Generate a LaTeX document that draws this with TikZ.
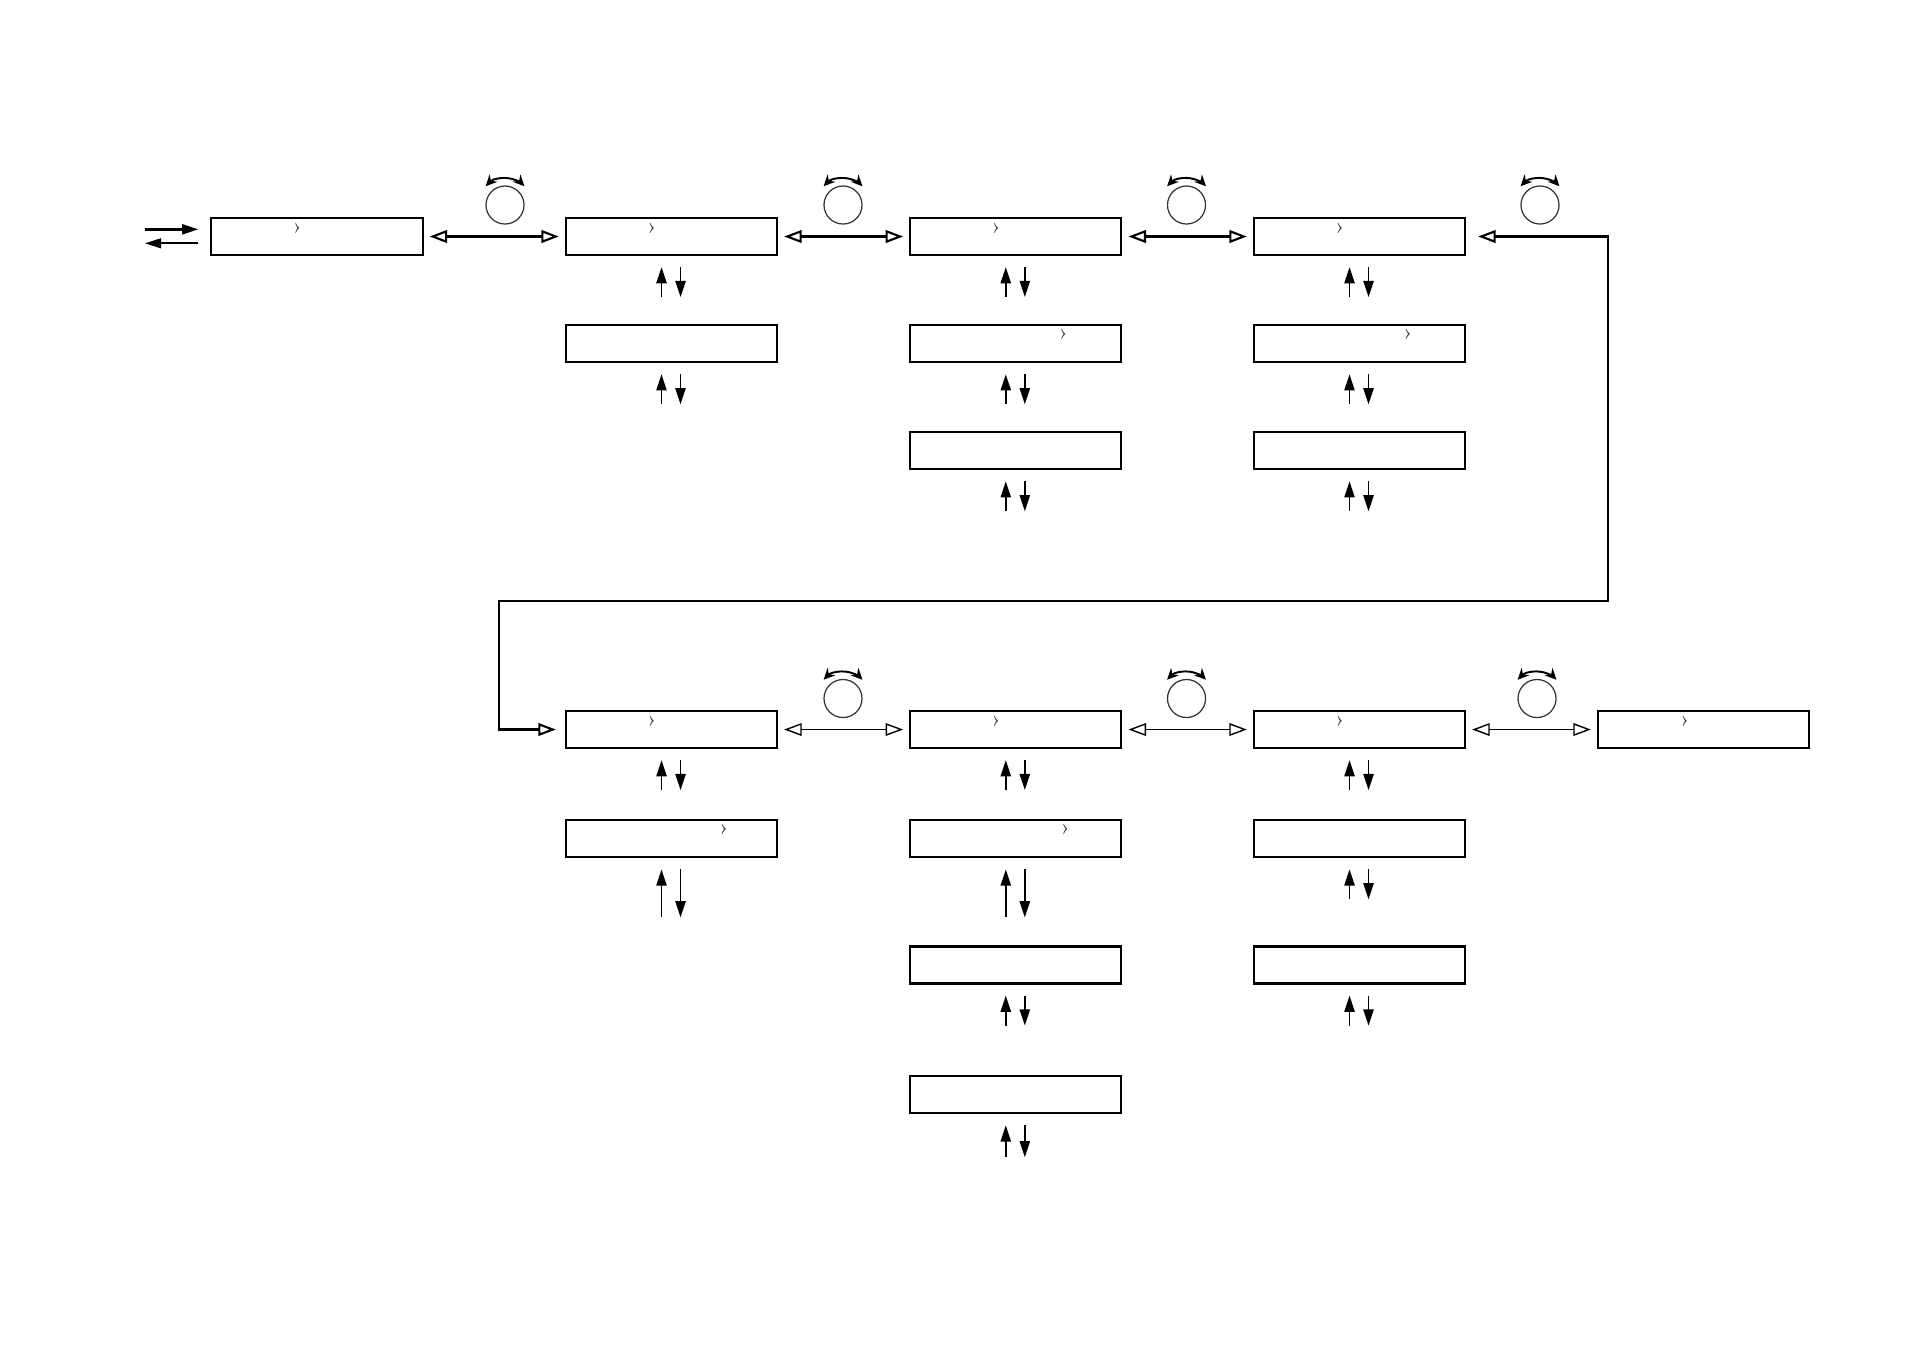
\documentclass[tikz,border=0pt]{standalone}
\usepackage{tikz}
\usetikzlibrary{arrows.meta}

\begin{document}
\begin{tikzpicture}[x=0.01cm, y=0.01cm,
            box/.style={rectangle, draw, line width=0.6pt, minimum width=2.11cm, minimum height=0.37cm, inner sep=0pt},
            chev/.style={inner sep=0pt, font=\fontsize{6}{6}\selectfont, text=black!75},
            knob/.style={circle, draw=black!80, line width=0.35pt, minimum size=0.38cm, inner sep=0pt},
            turn/.style={line width=0.55pt, {Stealth[length=3.2pt,width=3pt]}-{Stealth[length=3.2pt,width=3pt]}},
            nav/.style={line width=0.6pt, {Triangle[open,length=5pt,width=3.6pt]}-{Triangle[open,length=5pt,width=3.6pt]}, shorten <=0.06cm, shorten >=0.06cm},
            navthin/.style={nav, line width=0.4pt},
            ret/.style={nav, shorten <=0.12cm, shorten >=0.09cm},
            io/.style={line width=0.5pt, -{Triangle[length=4.6pt,width=2.8pt]}},
            pair/.style={line width=0.5pt, -{Triangle[length=4.6pt,width=2.9pt]}}
        ]
        \useasboundingbox (0,0) rectangle (1910,-1350);
        % upper row
        \node[box] (t0)  at (317,-236.5)    {};
        \node[box] (ta1) at (671.5,-236.5)  {};
        \node[box] (ta2) at (671.5,-343.7)  {};
        \node[box] (tb1) at (1015.8,-236.5) {};
        \node[box] (tb2) at (1015.8,-343.7) {};
        \node[box] (tb3) at (1015.8,-450.7) {};
        \node[box] (tc1) at (1359.5,-236.5) {};
        \node[box] (tc2) at (1359.5,-343.7) {};
        \node[box] (tc3) at (1359.5,-450.7) {};
        % lower row
        \node[box] (ua1) at (671.5,-729.5)   {};
        \node[box] (ua2) at (671.5,-838.8)   {};
        \node[box] (ub1) at (1015.8,-729.5)  {};
        \node[box] (ub2) at (1015.8,-838.8)  {};
        \node[box] (ub3) at (1015.8,-965)    {};
        \node[box] (ub4) at (1015.8,-1094.7) {};
        \node[box] (uc1) at (1359.5,-729.5)  {};
        \node[box] (uc2) at (1359.5,-838.8)  {};
        \node[box] (uc3) at (1359.5,-965)    {};
        \node[box] (ud1) at (1703.5,-729.5)  {};

        % cursor marks
        \node[chev] (h0)  at ([xshift=0.87cm,yshift=-0.11cm]t0.north west)  {\guilsinglright};
        \node[chev] (ha1) at ([xshift=0.87cm,yshift=-0.11cm]ta1.north west) {\guilsinglright};
        \node[chev] (hb1) at ([xshift=0.87cm,yshift=-0.11cm]tb1.north west) {\guilsinglright};
        \node[chev] (hc1) at ([xshift=0.87cm,yshift=-0.11cm]tc1.north west) {\guilsinglright};
        \node[chev] (hb2) at ([xshift=1.54cm,yshift=-0.10cm]tb2.north west) {\guilsinglright};
        \node[chev] (hc2) at ([xshift=1.55cm,yshift=-0.10cm]tc2.north west) {\guilsinglright};
        \node[chev] (ka1) at ([xshift=0.87cm,yshift=-0.11cm]ua1.north west) {\guilsinglright};
        \node[chev] (kb1) at ([xshift=0.87cm,yshift=-0.11cm]ub1.north west) {\guilsinglright};
        \node[chev] (kc1) at ([xshift=0.87cm,yshift=-0.11cm]uc1.north west) {\guilsinglright};
        \node[chev] (kd1) at ([xshift=0.88cm,yshift=-0.11cm]ud1.north west) {\guilsinglright};
        \node[chev] (ka2) at ([xshift=1.59cm,yshift=-0.10cm]ua2.north west) {\guilsinglright};
        \node[chev] (kb2) at ([xshift=1.56cm,yshift=-0.10cm]ub2.north west) {\guilsinglright};

        % knobs
        \node[knob] (k1) at (505,-205)    {};
        \node[knob] (k2) at (843,-205)    {};
        \node[knob] (k3) at (1186.5,-205) {};
        \node[knob] (k4) at (1540,-205)   {};
        \node[knob] (k5) at (843,-698.5)  {};
        \node[knob] (k6) at (1186.5,-698.5) {};
        \node[knob] (k7) at (1537,-698.5) {};
        \draw[turn] ([shift={(136:0.27cm)}]k1.center) arc[start angle=136, end angle=44, radius=0.27cm];
        \draw[turn] ([shift={(136:0.27cm)}]k2.center) arc[start angle=136, end angle=44, radius=0.27cm];
        \draw[turn] ([shift={(136:0.27cm)}]k3.center) arc[start angle=136, end angle=44, radius=0.27cm];
        \draw[turn] ([shift={(136:0.27cm)}]k4.center) arc[start angle=136, end angle=44, radius=0.27cm];
        \draw[turn] ([shift={(136:0.27cm)}]k5.center) arc[start angle=136, end angle=44, radius=0.27cm];
        \draw[turn] ([shift={(136:0.27cm)}]k6.center) arc[start angle=136, end angle=44, radius=0.27cm];
        \draw[turn] ([shift={(136:0.27cm)}]k7.center) arc[start angle=136, end angle=44, radius=0.27cm];

        % in / out
        \coordinate (inA)  at (145,-229.3);
        \coordinate (outA) at (145,-243.3);
        \draw[io, line width=0.75pt, shorten >=0.12cm] (inA) -- (inA -| t0.west);
        \draw[io, shorten <=0.12cm] (outA -| t0.west) -- (outA);

        % left / right
        \draw[nav] (t0) -- (ta1);
        \draw[nav] (ta1) -- (tb1);
        \draw[nav] (tb1) -- (tc1);
        \draw[navthin] (ua1) -- (ub1);
        \draw[navthin] (ub1) -- (uc1);
        \draw[navthin] (uc1) -- (ud1);
        \coordinate (rtR) at (1608,-600.7);
        \coordinate (rtL) at (499,-600.7);
        \draw[ret] (tc1.east) -- (tc1.east -| rtR) -- (rtR) -- (rtL) -- (rtL |- ua1.west) -- (ua1.west);

        % up / down
        \draw[pair] ([xshift=-0.1cm,yshift=-0.41cm]ta1.south) -- ++(0,30);
        \draw[pair] ([xshift=0.09cm,yshift=-0.11cm]ta1.south) -- ++(0,-30);
        \draw[pair] ([xshift=-0.1cm,yshift=-0.41cm]ta2.south) -- ++(0,30);
        \draw[pair] ([xshift=0.09cm,yshift=-0.11cm]ta2.south) -- ++(0,-30);
        \draw[pair] ([xshift=-0.1cm,yshift=-0.41cm]tb1.south) -- ++(0,30);
        \draw[pair] ([xshift=0.09cm,yshift=-0.11cm]tb1.south) -- ++(0,-30);
        \draw[pair] ([xshift=-0.1cm,yshift=-0.41cm]tb2.south) -- ++(0,30);
        \draw[pair] ([xshift=0.09cm,yshift=-0.11cm]tb2.south) -- ++(0,-30);
        \draw[pair] ([xshift=-0.1cm,yshift=-0.41cm]tb3.south) -- ++(0,30);
        \draw[pair] ([xshift=0.09cm,yshift=-0.11cm]tb3.south) -- ++(0,-30);
        \draw[pair] ([xshift=-0.1cm,yshift=-0.41cm]tc1.south) -- ++(0,30);
        \draw[pair] ([xshift=0.09cm,yshift=-0.11cm]tc1.south) -- ++(0,-30);
        \draw[pair] ([xshift=-0.1cm,yshift=-0.41cm]tc2.south) -- ++(0,30);
        \draw[pair] ([xshift=0.09cm,yshift=-0.11cm]tc2.south) -- ++(0,-30);
        \draw[pair] ([xshift=-0.1cm,yshift=-0.41cm]tc3.south) -- ++(0,30);
        \draw[pair] ([xshift=0.09cm,yshift=-0.11cm]tc3.south) -- ++(0,-30);
        \draw[pair] ([xshift=-0.1cm,yshift=-0.41cm]ua1.south) -- ++(0,30);
        \draw[pair] ([xshift=0.09cm,yshift=-0.11cm]ua1.south) -- ++(0,-30);
        \draw[pair] ([xshift=-0.1cm,yshift=-0.59cm]ua2.south) -- ++(0,48);
        \draw[pair] ([xshift=0.09cm,yshift=-0.11cm]ua2.south) -- ++(0,-48);
        \draw[pair] ([xshift=-0.1cm,yshift=-0.41cm]ub1.south) -- ++(0,30);
        \draw[pair] ([xshift=0.09cm,yshift=-0.11cm]ub1.south) -- ++(0,-30);
        \draw[pair] ([xshift=-0.1cm,yshift=-0.59cm]ub2.south) -- ++(0,48);
        \draw[pair] ([xshift=0.09cm,yshift=-0.11cm]ub2.south) -- ++(0,-48);
        \draw[pair] ([xshift=-0.1cm,yshift=-0.41cm]ub3.south) -- ++(0,30);
        \draw[pair] ([xshift=0.09cm,yshift=-0.11cm]ub3.south) -- ++(0,-30);
        \draw[pair] ([xshift=-0.1cm,yshift=-0.43cm]ub4.south) -- ++(0,32);
        \draw[pair] ([xshift=0.09cm,yshift=-0.11cm]ub4.south) -- ++(0,-32);
        \draw[pair] ([xshift=-0.1cm,yshift=-0.41cm]uc1.south) -- ++(0,30);
        \draw[pair] ([xshift=0.09cm,yshift=-0.11cm]uc1.south) -- ++(0,-30);
        \draw[pair] ([xshift=-0.1cm,yshift=-0.41cm]uc2.south) -- ++(0,30);
        \draw[pair] ([xshift=0.09cm,yshift=-0.11cm]uc2.south) -- ++(0,-30);
        \draw[pair] ([xshift=-0.1cm,yshift=-0.41cm]uc3.south) -- ++(0,30);
        \draw[pair] ([xshift=0.09cm,yshift=-0.11cm]uc3.south) -- ++(0,-30);
    \end{tikzpicture}
\end{document}
